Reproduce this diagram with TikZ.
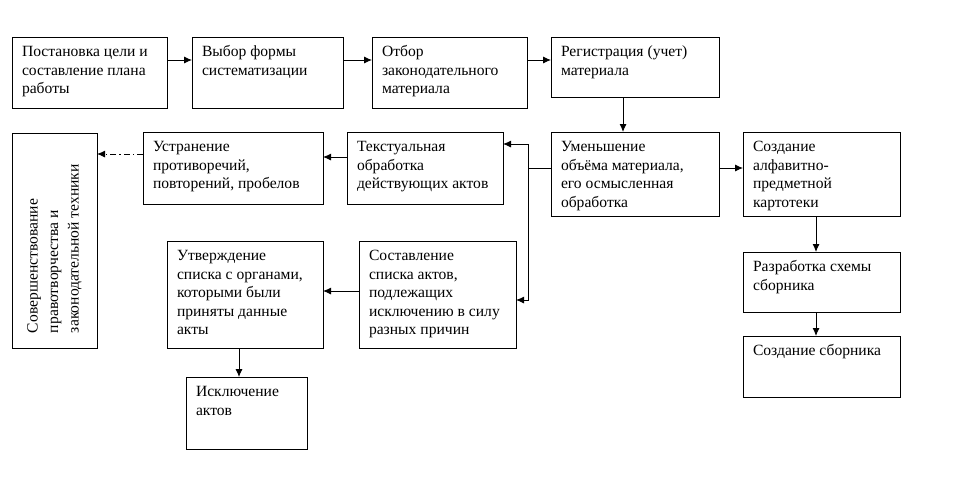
\documentclass[tikz,border=0pt]{standalone}
\usepackage{fontspec}
\setmainfont{Liberation Serif}
\usetikzlibrary{arrows.meta}
\newcommand\bx[6]{%
\node[boxst, minimum width={#4-#2}, minimum height={#5-#3}] (#1) at ({(#2+#4)/2},{(#3+#5)/2})
 {\parbox[c][\dimexpr #5pt-#3pt-14pt\relax][t]{\dimexpr #4pt-#2pt-20pt\relax}{\raggedright\strut #6}};}
\begin{document}
\begin{tikzpicture}[x=1pt,y=-1pt,
  boxst/.style={draw, line width=0.9pt, inner sep=0pt, outer sep=0pt,
    font=\fontsize{15.6}{18.5}\selectfont},
  arr/.style={line width=0.9pt, -{Latex[length=8pt,width=7pt]}},
  ln/.style={line width=0.9pt},
  dd/.style={line width=0.9pt, dash pattern=on 6pt off 3pt on 1.5pt off 3pt, -{Latex[length=8pt,width=7pt]}}]
\useasboundingbox (0,0) rectangle (960,480);
\bx{b1}{12}{37}{167}{108}{Постановка цели и\\составление плана\\работы}
\bx{b2}{192}{37}{343}{108}{Выбор формы\\систематизации}
\bx{b3}{372}{37}{527}{108}{Отбор\\законодательного\\материала}
\bx{b4}{551}{37}{719}{97}{Регистрация (учет)\\материала}
\bx{b5}{551}{132}{719}{216}{Уменьшение\\объёма материала,\\его осмысленная\\обработка}
\bx{b6}{743}{132}{900}{216}{Создание\\алфавитно-\\предметной\\картотеки}
\bx{b7}{743}{252}{900}{312}{Разработка схемы\\сборника}
\bx{b8}{743}{336}{900}{397}{Создание сборника}
\bx{b9}{347}{132}{503}{204}{Текстуальная\\обработка\\действующих актов}
\bx{b10}{143}{132}{323}{204}{Устранение\\противоречий,\\повторений, пробелов}
\bx{b12}{359}{241}{516}{348}{Составление\\списка актов,\\подлежащих\\исключению в силу\\разных причин}
\bx{b13}{167}{241}{323}{348}{Утверждение\\списка с органами,\\которыми были\\приняты данные\\акты}
\bx{b14}{186}{377}{307}{449}{Исключение\\актов}
\node[boxst, rotate=90, minimum width=215, minimum height=85,
  font=\fontsize{15.6}{20.5}\selectfont] (b11) at (54.5,240.5)
 {\parbox[c][75pt][c]{185pt}{\raggedright Совершенствование\\правотворчества и\\законодательной техники}};
% connectors
\draw[arr] ([yshift=-23pt]b1.north east) -- ([yshift=-23pt]b2.north west);
\draw[arr] ([yshift=-23pt]b2.north east) -- ([yshift=-23pt]b3.north west);
\draw[arr] ([yshift=-23pt]b3.north east) -- ([yshift=-23pt]b4.north west);
\draw[arr] ([xshift=72pt]b4.south west) -- ([xshift=72pt]b5.north west);
\draw[arr] ([yshift=-36pt]b5.north east) -- ([yshift=-36pt]b6.north west);
\draw[arr] ([xshift=73pt]b6.south west) -- ([xshift=73pt]b7.north west);
\draw[arr] ([xshift=73pt]b7.south west) -- ([xshift=73pt]b8.north west);
\draw[ln] ([yshift=-36pt]b5.north west) -- ++(-23,0) coordinate (j);
\draw[arr] (j) |- ([yshift=-12pt]b9.north east);
\draw[arr] (j) |- ([yshift=-59pt]b12.north east);
\draw[arr] ([yshift=-25pt]b9.north west) -- ([yshift=-25pt]b10.north east);
\draw[dd] ([yshift=-22pt]b10.north west) coordinate (k) -- (k -| b11.south);
\draw[arr] ([yshift=-50pt]b12.north west) -- ([yshift=-50pt]b13.north east);
\draw[arr] ([xshift=72pt]b13.south west) -- ([xshift=53pt]b14.north west);
\end{tikzpicture}
\end{document}
